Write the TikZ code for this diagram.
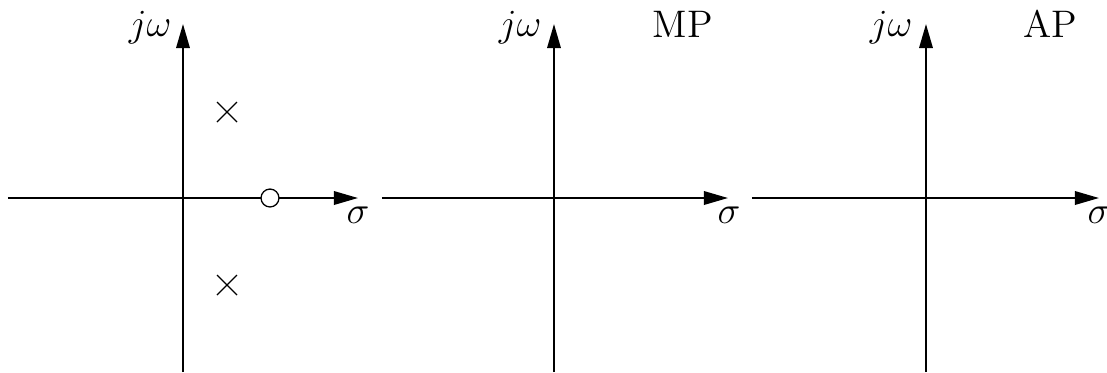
\documentclass[tikz,border=0pt]{standalone}
\usetikzlibrary{arrows.meta}
\begin{document}
\begin{tikzpicture}[x=0.3125pt,y=0.3125pt,
  axis/.style={line width=0.6pt,-{Triangle[length=7.5pt,width=4.2pt]}},
  polemark/.style={line width=0.4pt},
  zeromark/.style={draw,circle,line width=0.4pt,fill=white,minimum size=5.6pt,inner sep=0pt},
  lbl/.style={inner sep=0pt,font=\large}]
\useasboundingbox (0,0) rectangle (1107,372);
% panel 1
\coordinate (o1) at (183,174);
\coordinate (v1b) at (183,0); \coordinate (v1t) at (183,348);
\coordinate (h1l) at (8,174); \coordinate (h1r) at (358,174);
\draw[axis] (h1l) -- (h1r);
\draw[axis] (v1b) -- (v1t);
\node[lbl,anchor=base east] (jw1) at (172,336) {$j\omega$};
\node[lbl,anchor=base west] (s1) at (346,149) {$\sigma$};
\coordinate (p1) at (227,260);
\coordinate (p2) at (227,87);
\draw[polemark] ([shift={(-10,-10)}]p1) -- ([shift={(10,10)}]p1) ([shift={(-10,10)}]p1) -- ([shift={(10,-10)}]p1);
\draw[polemark] ([shift={(-10,-10)}]p2) -- ([shift={(10,10)}]p2) ([shift={(-10,10)}]p2) -- ([shift={(10,-10)}]p2);
\node[zeromark] (z1) at (270,174) {};
% panel 2
\coordinate (v2b) at (554,0); \coordinate (v2t) at (554,348);
\coordinate (h2l) at (382,174); \coordinate (h2r) at (728,174);
\draw[axis] (h2l) -- (h2r);
\draw[axis] (v2b) -- (v2t);
\node[lbl,anchor=base east] (jw2) at (542,336) {$j\omega$};
\node[lbl,anchor=base west] (s2) at (717,149) {$\sigma$};
\node[lbl,anchor=base west] (mp) at (652,335) {MP};
% panel 3
\coordinate (v3b) at (926,0); \coordinate (v3t) at (926,348);
\coordinate (h3l) at (752,174); \coordinate (h3r) at (1099,174);
\draw[axis] (h3l) -- (h3r);
\draw[axis] (v3b) -- (v3t);
\node[lbl,anchor=base east] (jw3) at (913,336) {$j\omega$};
\node[lbl,anchor=base west] (s3) at (1087,149) {$\sigma$};
\node[lbl,anchor=base west] (ap) at (1023,335) {AP};
\end{tikzpicture}
\end{document}
